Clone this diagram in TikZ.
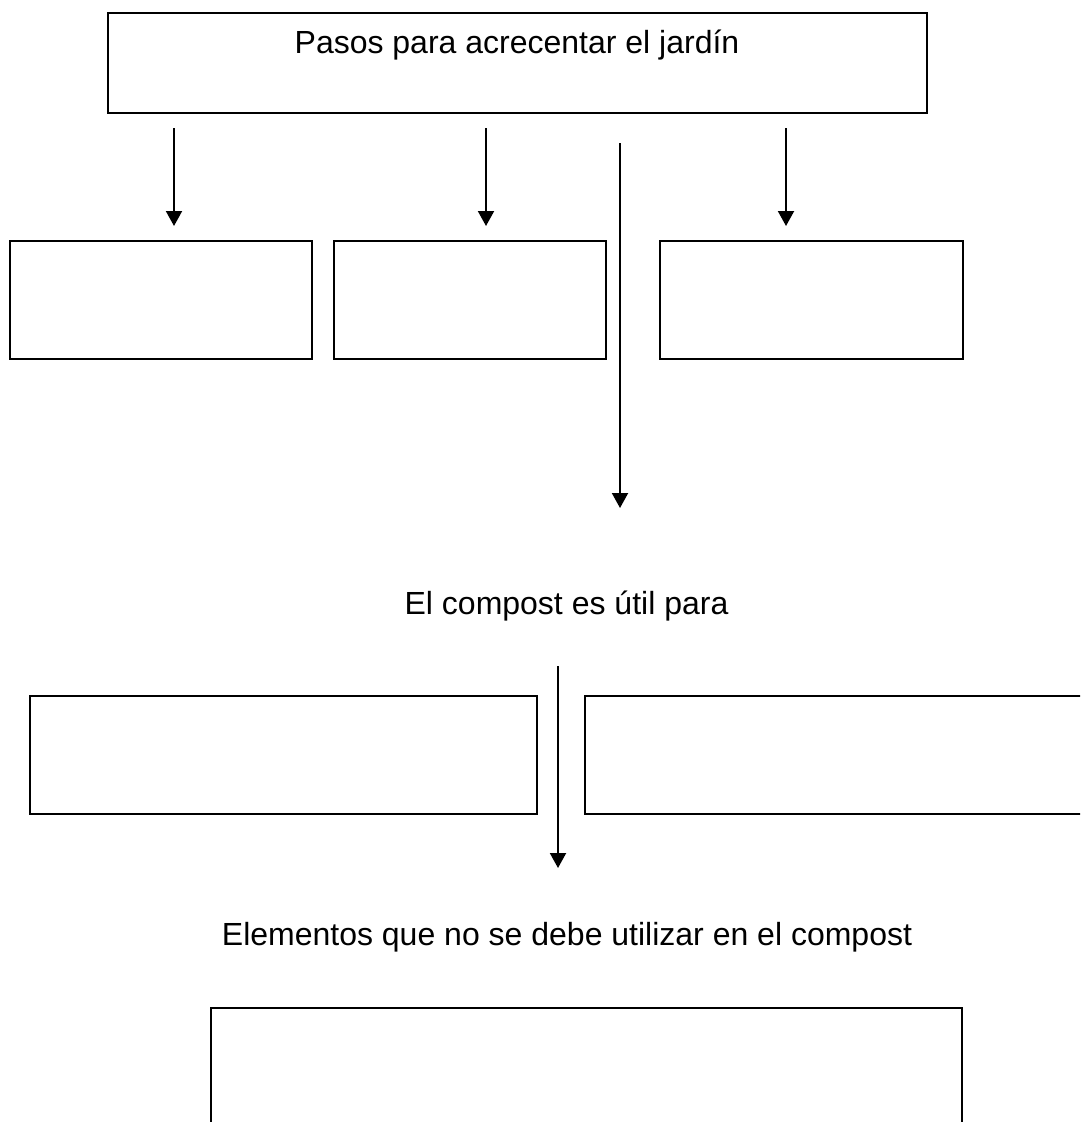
\documentclass[tikz,border=0pt]{standalone}
\usepackage{fontspec}
\setmainfont{Liberation Sans}
\usetikzlibrary{arrows.meta}
\tikzset{
  box/.style={draw=black, line width=2pt, inner sep=0pt},
  lbl/.style={anchor=base, inner sep=0pt, font=\fontsize{32}{38}\selectfont},
  arr/.style={line width=2pt, -{Triangle[length=15pt,width=16pt]}},
}
\begin{document}
\begin{tikzpicture}[x=1pt,y=-1pt]
\clip (0,0) rectangle (1080,1122);
\fill[white] (0,0) rectangle (1080,1122);
% boxes
\node[box, minimum width=819pt, minimum height=100pt] (top) at (517.5,62.7) {};
\node[box, minimum width=302pt, minimum height=118pt] (b1) at (161,300) {};
\node[box, minimum width=272.5pt, minimum height=118pt] (b2) at (470,300) {};
\node[box, minimum width=303pt, minimum height=118pt] (b3) at (811.5,300) {};
\node[box, minimum width=507pt, minimum height=118pt] (c1) at (283,755) {};
\node[box, minimum width=515pt, minimum height=118pt] (c2) at (842.5,755) {};
\node[box, minimum width=751pt, minimum height=124pt] (d) at (586.5,1070) {};
% texts
\node[lbl] (t1) at (517,53) {Pasos para acrecentar el jardín};
\node[lbl] (t2) at (566.5,614) {El compost es útil para};
\node[lbl] (t3) at (567,945) {Elementos que no se debe utilizar en el compost};
% arrow ends
\coordinate (a1s) at (174,128); \coordinate (a1e) at (174,226);
\coordinate (a2s) at (486,128); \coordinate (a2e) at (486,226);
\coordinate (a3s) at (786,128); \coordinate (a3e) at (786,226);
\coordinate (a4s) at (620,143); \coordinate (a4e) at (620,508);
\coordinate (a5s) at (558,666); \coordinate (a5e) at (558,868);
\draw[arr] (a1s) -- (a1e);
\draw[arr] (a2s) -- (a2e);
\draw[arr] (a3s) -- (a3e);
\draw[arr] (a4s) -- (a4e);
\draw[arr] (a5s) -- (a5e);
\end{tikzpicture}
\end{document}
